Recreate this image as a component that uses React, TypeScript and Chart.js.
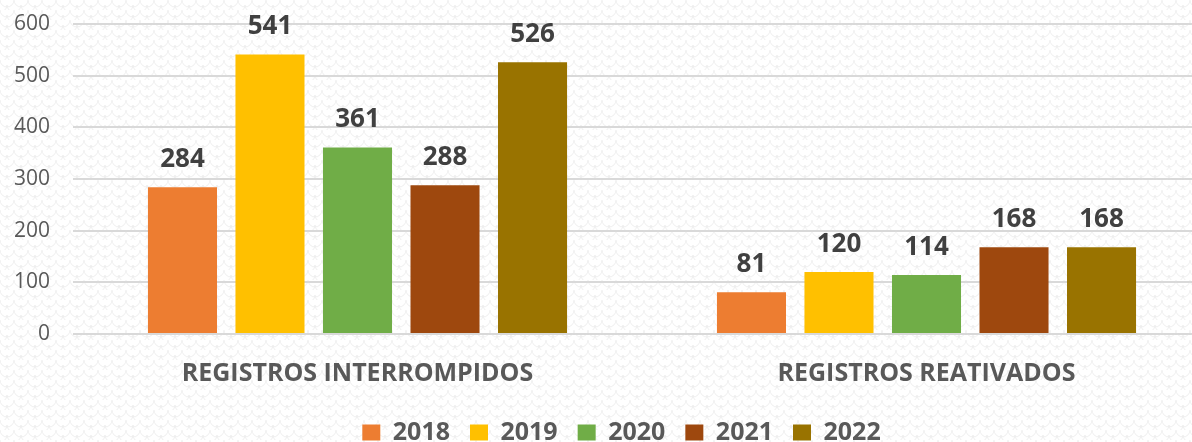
import React, { useEffect, useRef } from "react";
import { Chart, registerables } from "chart.js";

Chart.register(...registerables);

const categories = ["REGISTROS INTERROMPIDOS", "REGISTROS REATIVADOS"];
const years = ["2018", "2019", "2020", "2021", "2022"];
const values2018 = [284, 81];
const values2019 = [541, 120];
const values2020 = [361, 114];
const values2021 = [288, 168];
const values2022 = [526, 168];
const seriesValues = [values2018, values2019, values2020, values2021, values2022];
const seriesColors = ["#ED7D31", "#FFC000", "#70AD47", "#9E480E", "#997300"];
const yTicks = [0, 100, 200, 300, 400, 500, 600];

const FONT = "'Open Sans', 'Noto Sans', sans-serif";
const CANVAS_W = 1211;
const CANVAS_H = 455;
const PLOT_TOP = 24;

function makePattern(ctx: CanvasRenderingContext2D) {
  const tile = document.createElement("canvas");
  tile.width = 14;
  tile.height = 10;
  const t = tile.getContext("2d")!;
  t.fillStyle = "#ffffff";
  t.fillRect(0, 0, 14, 10);
  t.strokeStyle = "#efefef";
  t.lineWidth = 1;
  t.beginPath();
  t.arc(7, 0, 7, 0, Math.PI);
  t.stroke();
  t.beginPath();
  t.arc(0, 5, 7, 0, Math.PI / 2);
  t.stroke();
  t.beginPath();
  t.arc(14, 5, 7, Math.PI / 2, Math.PI);
  t.stroke();
  return ctx.createPattern(tile, "repeat");
}

const backgroundPlugin = {
  id: "bgPattern",
  beforeDraw(chart: any) {
    const ctx = chart.ctx as CanvasRenderingContext2D;
    ctx.save();
    const p = makePattern(ctx);
    ctx.fillStyle = p || "#ffffff";
    ctx.fillRect(0, 0, chart.width, chart.height);
    ctx.restore();
  },
};

const layoutFixPlugin = {
  id: "layoutFix",
  afterLayout(chart: any) {
    const lg = chart.legend;
    if (lg) {
      lg.left += 16;
      lg.right += 16;
    }
    const y = chart.scales.y;
    if (y && Math.abs(y.top - PLOT_TOP) > 0.5) {
      y.top = PLOT_TOP;
      y.height = y.bottom - PLOT_TOP;
      y.configure();
      chart.chartArea.top = PLOT_TOP;
      chart.chartArea.height = chart.chartArea.bottom - PLOT_TOP;
    }
  },
};

const valueLabelPlugin = {
  id: "valueLabels",
  afterDatasetsDraw(chart: any) {
    const ctx = chart.ctx as CanvasRenderingContext2D;
    ctx.save();
    ctx.font = `bold 26px ${FONT}`;
    ctx.fillStyle = "#404040";
    ctx.textAlign = "center";
    ctx.textBaseline = "alphabetic";
    chart.data.datasets.forEach((ds: any, i: number) => {
      const meta = chart.getDatasetMeta(i);
      meta.data.forEach((el: any, j: number) => {
        ctx.fillText(String(ds.data[j]), el.x, el.y - 20);
      });
    });
    ctx.restore();
  },
};

export default function App() {
  const ref = useRef<HTMLCanvasElement | null>(null);

  useEffect(() => {
    if (!ref.current) return;
    const chart = new Chart(ref.current, {
      type: "bar",
      data: {
        labels: categories,
        datasets: years.map((y, i) => ({
          label: y,
          data: seriesValues[i],
          backgroundColor: seriesColors[i],
          borderWidth: 0,
          categoryPercentage: 0.769,
          barPercentage: 0.789,
        })),
      },
      options: {
        responsive: false,
        animation: false,
        layout: { autoPadding: false, padding: { left: 0, right: 0, top: PLOT_TOP, bottom: 0 } },
        plugins: {
          legend: {
            position: "bottom",
            labels: {
              boxWidth: 18,
              boxHeight: 16,
              padding: 20,
              color: "#595959",
              font: { family: FONT, size: 25, weight: "bold" },
            },
          },
          tooltip: { enabled: false },
        },
        scales: {
          x: {
            grid: { display: false },
            border: { display: false },
            ticks: {
              color: "#595959",
              padding: 17,
              font: { family: FONT, size: 25, weight: "bold" },
            },
            afterFit(scale: any) {
              scale.height = 66;
            },
          },
          y: {
            min: 0,
            max: 600,
            afterBuildTicks(scale: any) {
              scale.ticks = yTicks.map((v) => ({ value: v }));
            },
            grid: { color: "#D9D9D9", lineWidth: 2, drawTicks: false },
            border: { display: false },
            ticks: {
              color: "#595959",
              padding: 23,
              font: { family: FONT, size: 21 },
            },
            afterFit(scale: any) {
              scale.width = 73;
            },
          },
        },
      },
      plugins: [backgroundPlugin, layoutFixPlugin, valueLabelPlugin],
    });
    return () => chart.destroy();
  }, []);

  return (
    <div
      style={{
        position: "fixed",
        left: 0,
        top: 0,
        width: 1192,
        height: 442,
        overflow: "hidden",
        background: "#fff",
      }}
    >
      <canvas ref={ref} width={CANVAS_W} height={CANVAS_H} style={{ display: "block" }} />
    </div>
  );
}
